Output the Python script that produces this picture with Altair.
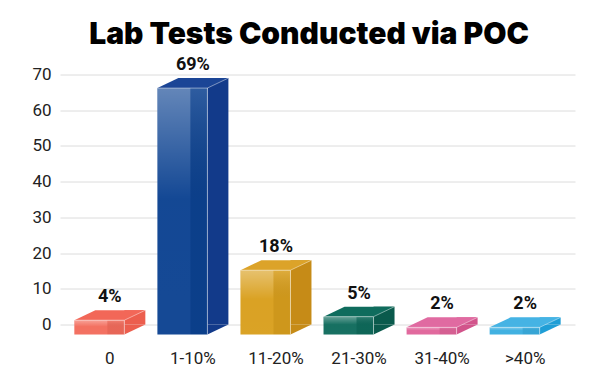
import altair as alt
import pandas as pd

# ---- data ----
categories = ["0", "1-10%", "11-20%", "21-30%", "31-40%", ">40%"]
values = [4, 69, 18, 5, 2, 2]
value_labels = ["4%", "69%", "18%", "5%", "2%", "2%"]

# ---- styles ----
front_colors = ["#f36c5c", "#0c4291", "#d99f1d", "#0f6b5c", "#e0649a", "#3aaee0"]
side_colors = ["#ec5e4e", "#123a8a", "#c68b17", "#0a5a4c", "#d2548b", "#1f9ed6"]
top_colors = ["#f26758", "#1b4596", "#dca329", "#0f6c5d", "#e06aa1", "#45b3e4"]

df = pd.DataFrame({
    "cat": categories,
    "value": values,
    "label": value_labels,
    "front": front_colors,
    "side": side_colors,
    "top": top_colors,
})

FONT = "Roboto"
x_enc = alt.X("cat:N", sort=categories,
              scale=alt.Scale(type="band", paddingInner=0.4, paddingOuter=0.3),
              axis=alt.Axis(title=None, labelAngle=0, domain=False, ticks=False,
                            labelFontSize=17, labelColor="#222", labelFont=FONT,
                            labelPadding=16, grid=False))
y_scale = alt.Scale(domain=[-2.8, 70], nice=False, zero=False)
y_axis = alt.Axis(title=None, values=[0, 10, 20, 30, 40, 50, 60, 70],
                  domain=False, ticks=False, labelFontSize=17, labelOverlap=False,
                  labelColor="#222", labelFont=FONT, labelPadding=9,
                  gridColor="#dcdcdc", gridWidth=1)
y_enc = alt.Y("value:Q", scale=y_scale, axis=y_axis)
y_zero = alt.YDatum(0, scale=y_scale, axis=y_axis)

base = alt.Chart(df)

# side face (rect part)
side = base.mark_bar(width=21, xOffset=25).encode(
    x=x_enc, y=y_enc, y2=alt.datum(0), color=alt.Color("side:N", scale=None))

# side face bottom triangle
side_tri = base.mark_point(shape="M14.5,0 L35.5,0 L14.5,10 Z", size=4, filled=True,
                           opacity=1, strokeWidth=0).encode(
    x=x_enc, y=y_zero, color=alt.Color("side:N", scale=None))

# front face
front = base.mark_bar(width=50, xOffset=-10.5, yOffset=10, y2Offset=10).encode(
    x=x_enc, y=y_enc, y2=alt.datum(0), color=alt.Color("front:N", scale=None))

# gloss on the left part of the front face
gloss = base.mark_bar(width=33, xOffset=-19, yOffset=10, y2Offset=10,
                      color=alt.Gradient(gradient="linear", x1=0, x2=0, y1=0, y2=1,
                                         stops=[alt.GradientStop(color="rgba(255,255,255,0.36)", offset=0),
                                                alt.GradientStop(color="rgba(255,255,255,0.03)", offset=0.45),
                                                alt.GradientStop(color="rgba(255,255,255,0.04)", offset=1)])).encode(
    x=x_enc, y=y_enc, y2=alt.datum(0))

# right strip of the front face
strip = base.mark_bar(width=17, xOffset=6, yOffset=10, y2Offset=10,
                      color=alt.Gradient(gradient="linear", x1=0, x2=0, y1=0, y2=1,
                                         stops=[alt.GradientStop(color="rgba(255,255,255,0.14)", offset=0),
                                                alt.GradientStop(color="rgba(0,0,0,0.05)", offset=0.45),
                                                alt.GradientStop(color="rgba(0,0,0,0.05)", offset=1)])).encode(
    x=x_enc, y=y_enc, y2=alt.datum(0))

# light edge between front and side
edge = base.mark_bar(width=1, xOffset=14.5, yOffset=10, y2Offset=10,
                     color="rgba(255,255,255,0.45)").encode(
    x=x_enc, y=y_enc, y2=alt.datum(0))

# top face
top = base.mark_point(shape="M-35.5,10 L14.5,10 L35.5,0 L-14.5,0 Z", size=4, filled=True,
                      opacity=1, strokeWidth=0).encode(
    x=x_enc, y=y_enc, color=alt.Color("top:N", scale=None))

top_edge = base.mark_point(shape="M-35.5,10 L14.5,10 L35.5,0", size=4, filled=False,
                           opacity=1, strokeWidth=1, color="rgba(255,255,255,0.45)").encode(
    x=x_enc, y=y_enc)

text = base.mark_text(dy=-13, baseline="middle", fontSize=18, fontWeight="bold",
                      font=FONT, color="#111").encode(
    x=x_enc, y=y_enc, text="label:N")

chart = alt.layer(side, side_tri, front, gloss, strip, edge, top, top_edge, text).properties(
    width=515, height=260,
    title=alt.TitleParams("Lab Tests Conducted via POC", font="Inter", fontSize=30,
                          fontWeight=900, color="#000", anchor="middle", frame="group",
                          baseline="alphabetic", offset=-18, dx=-8.5),
    autosize=alt.AutoSizeParams(type="none"),
    padding={"left": 52, "top": 66.5, "right": 17, "bottom": 45},
).configure_view(stroke=None)

chart.save("out.html", embed_options={"renderer": "svg", "actions": False})
